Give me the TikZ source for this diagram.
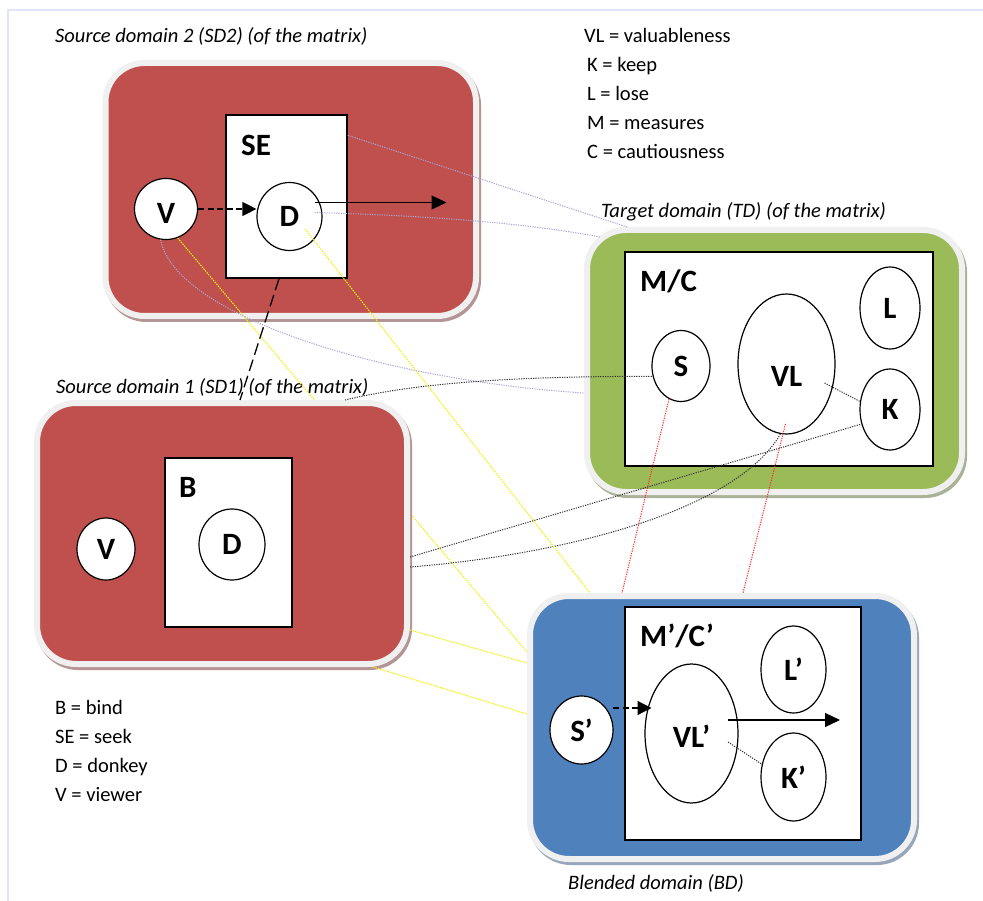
\documentclass[tikz,border=0pt]{standalone}
\usepackage{fontspec}
\setmainfont{Carlito}
\usetikzlibrary{shapes.geometric,arrows.meta,calc}
\definecolor{sdred}{HTML}{C0504D}
\definecolor{tdgreen}{HTML}{9BBB59}
\definecolor{bdblue}{HTML}{4F81BD}
\definecolor{rimcol}{HTML}{F0F0F0}
\definecolor{redshadow}{HTML}{B49494}
\definecolor{greenshadow}{HTML}{A9B296}
\definecolor{blueshadow}{HTML}{97A6BA}
\definecolor{lavcol}{HTML}{A8A4D4}
\definecolor{framecol}{HTML}{E2E2FA}
\definecolor{dotblack}{HTML}{333333}
\definecolor{yelcol}{HTML}{F2F200}
\definecolor{dotred}{HTML}{FF2A2A}
\newcommand\bigbold{\fontsize{31}{31}\selectfont\bfseries}
\newcommand\legfont{\fontsize{20.5}{24}\selectfont}
\tikzset{
  domainbox/.style 2 args={rectangle, rounded corners=39pt, draw=rimcol, line width=6pt, fill=#1, inner sep=0pt,
    preaction={draw=#2, fill=#2, line width=6pt, transform canvas={shift={(2pt,-3pt)}}}},
  innerbox/.style={rectangle, draw=black, fill=white, line width=1.4pt, inner sep=0pt},
  blob/.style={ellipse, draw=black, fill=white, line width=1.2pt, inner sep=0pt, font=\bigbold},
  boxlabel/.style={anchor=base west, inner sep=0pt, font=\bigbold},
  legtext/.style={anchor=base west, inner sep=0pt, font=\legfont},
  domtitle/.style={anchor=base west, inner sep=0pt, font=\legfont\itshape},
  dasharrow/.style={black, line width=1.2pt, dash pattern=on 6pt off 3.5pt, -{Triangle[length=14pt,width=14pt]}},
  solidarrow/.style={black, line width=1.2pt, -{Triangle[length=15pt,width=14pt]}},
  lavline/.style={lavcol, line width=1pt, dash pattern=on 1.2pt off 1.2pt},
  blkdot/.style={dotblack, line width=1pt, dash pattern=on 1.2pt off 1.2pt},
  reddot/.style={dotred, line width=1pt, dash pattern=on 1.2pt off 1.2pt},
  yelline/.style={yelcol, line width=1pt, dash pattern=on 1.5pt off 1pt},
  longdash/.style={black, line width=1.3pt, dash pattern=on 12pt off 5pt}
}
\begin{document}
\begin{tikzpicture}[x=1pt,y=-1pt]
\useasboundingbox (0,0) rectangle (983,901);
\fill[white] (0,0) rectangle (983,901);
\draw[framecol, line width=2pt] (8,901) -- (8,10) -- (983,10);

% legends
\node[legtext] (lvl) at (584,43) {VL = valuableness};
\node[legtext] (lk) at (587,72) {K = keep};
\node[legtext] (ll) at (587,101) {L = lose};
\node[legtext] (lm) at (587,130) {M = measures};
\node[legtext] (lc) at (587,159) {C = cautiousness};
\node[legtext] (lb) at (55,714) {B = bind};
\node[legtext] (lse) at (55,743) {SE = seek};
\node[legtext] (ld) at (55,772) {D = donkey};
\node[legtext] (lv) at (55,801) {V = viewer};

% titles
\node[domtitle] (tsd2) at (55,43) {Source domain 2 (SD2) (of the matrix)};
\node[domtitle] (ttd) at (601,218) {Target domain (TD) (of the matrix)};
\node[domtitle] (tsd1) at (56,393) {Source domain 1 (SD1) (of the matrix)};
\node[domtitle] (tbd) at (568,889) {Blended domain (BD)};

% SD2
\node[domainbox={sdred}{redshadow}, minimum width=370.5pt, minimum height=253pt] (sd2) at (290.75,189.5) {};
\node[innerbox, minimum width=121pt, minimum height=163pt] (se) at (286.5,196.5) {};
\node[boxlabel] (sel) at (241,156) {SE};
\node[blob, minimum width=63pt, minimum height=61pt, text height=30pt, text depth=0pt] (v2) at (166,209) {V};
\node[blob, minimum width=65pt, minimum height=68pt] (d2) at (289.5,216.5) {D};

% TD
\node[domainbox={tdgreen}{greenshadow}, minimum width=375pt, minimum height=262pt] (td) at (774.5,361) {};
\node[innerbox, minimum width=308pt, minimum height=214pt] (mc) at (779,359) {};
\node[boxlabel] (mcl) at (640,292) {M/C};
\node[blob, minimum width=58pt, minimum height=71pt] (s) at (681,366) {S};
\node[blob, minimum width=97pt, minimum height=140pt, text height=46pt, text depth=0pt] (vl) at (786.5,364) {VL};
\node[blob, minimum width=60pt, minimum height=82pt] (l) at (890,308) {L};
\node[blob, minimum width=60pt, minimum height=81pt] (k) at (890,409.5) {K};

% BD
\node[domainbox={bdblue}{blueshadow}, minimum width=384pt, minimum height=263pt] (bd) at (722,727.5) {};
\node[innerbox, minimum width=236pt, minimum height=233pt] (mcp) at (743,723.5) {};
\node[boxlabel] (mcpl) at (640,646) {M’/C’};
\node[blob, minimum width=63pt, minimum height=68pt] (sp) at (581.5,730) {S’};
\node[blob, minimum width=93pt, minimum height=139pt, text height=28pt, text depth=0pt] (vlp) at (691.5,733.5) {VL’};
\node[blob, minimum width=65pt, minimum height=87pt] (lp) at (793.5,669.5) {L’};
\node[blob, minimum width=65pt, minimum height=88pt] (kp) at (793.5,777) {K’};

% yellow line passing behind SD1
\draw[yelline] (v2.292) -- ($(bd.north west)+(0,59)$);

% SD1
\node[domainbox={sdred}{redshadow}, minimum width=370pt, minimum height=261pt] (sd1) at (222,533.5) {};
\node[innerbox, minimum width=127pt, minimum height=169pt] (b) at (228.5,542.5) {};
\node[boxlabel] (bl) at (179,497) {B};
\node[blob, minimum width=58pt, minimum height=62pt] (v1) at (106,549) {V};
\node[blob, minimum width=66pt, minimum height=71pt] (d1) at (232,544.5) {D};

% connectors in SD2
\draw[dasharrow] (v2.east) -- (v2.east -| d2.west);
\coordinate (d2a) at ($(d2.center)+(25,-14)$);
\coordinate (d2b) at ($(d2.center)+(157,-14)$);
\draw[solidarrow] (d2a) -- (d2b);

% lavender mappings SD2 -> TD
\draw[lavline] ($(se.north east)+(0,21)$) -- ($(td.north west)+(43,0)$);
\draw[lavline] ($(d2.center)+(25,-4)$) .. controls +(106,3) and +(-80,-15) .. ($(td.north west)+(16,10)$);
\draw[lavline] (v2.260) .. controls +(14,75) and +(-204,-13) .. ($(td.west)+(0,32)$);

% black dotted SD1 -> TD
\draw[blkdot] ($(sd1.north west)+(311,0)$) .. controls +(75,-18) and +(-133,0) .. (s.200);
\draw[blkdot] ($(sd1.east)+(0,23.5)$) -- (k.207);
\draw[blkdot] ($(sd1.east)+(0,33.5)$) .. controls +(150,-12) and +(-45,78) .. (vl.265);
\draw[blkdot] ($(vl.center)+(38,19)$) -- (k.165);

% red dotted TD -> BD
\draw[reddot] (s.250) -- ($(bd.north west)+(95,0)$);
\draw[reddot] ($(vl.center)+(-1,60)$) -- ($(bd.north west)+(216,0)$);

% yellow to BD
\draw[yelline] ($(d2.center)+(15.5,12.5)$) -- ($(bd.north west)+(63,0)$);
\draw[yelline] ($(sd1.east)+(0,96.5)$) -- ($(bd.north west)+(0,70)$);
\draw[yelline] ($(sd1.south east)+(-37,0)$) -- ($(bd.north west)+(0,121)$);

% dashed SE -> SD1
\draw[longdash] ($(se.south)+(-7.5,0)$) -- ($(sd1.north west)+(206,0)$);

% BD inner connectors
\coordinate (spa) at ($(sp.center)+(31.5,-22)$);
\coordinate (spb) at ($(vlp.center)+(-40,-25.5)$);
\draw[dasharrow] (spa) -- (spb);
\coordinate (vla) at ($(vlp.center)+(36.5,-13.5)$);
\coordinate (vlb) at ($(vlp.center)+(148.5,-13.5)$);
\draw[solidarrow] (vla) -- (vlb);
\draw[blkdot] ($(vlp.center)+(36.5,8.5)$) -- (kp.158);
\end{tikzpicture}
\end{document}
